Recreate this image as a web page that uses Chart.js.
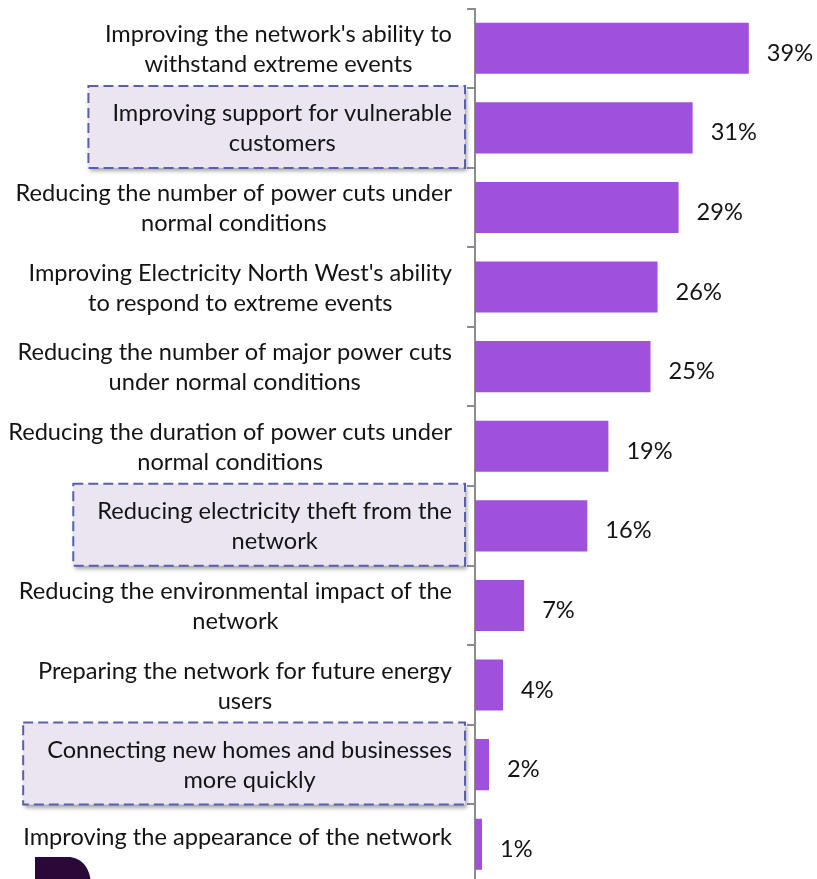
<!DOCTYPE html>
<html>
<head>
<meta charset="utf-8">
<script src="https://cdn.jsdelivr.net/npm/chart.js@4/dist/chart.umd.min.js"></script>
<style>
  html, body { margin: 0; padding: 0; background: #ffffff; overflow: hidden; }
  #wrap { position: relative; width: 817px; height: 884px; }
</style>
</head>
<body>
<div id="wrap"><canvas id="chart" width="817" height="884"></canvas></div>
<script>
// Priorities, top to bottom (each entry holds the wrapped lines of the label)
const categories = [
  ["Improving the network's ability to", "withstand extreme events"],
  ["Improving support for vulnerable", "customers"],
  ["Reducing the number of power cuts under", "normal conditions"],
  ["Improving Electricity North West's ability", "to respond to extreme events"],
  ["Reducing the number of major power cuts", "under normal conditions"],
  ["Reducing the duration of power cuts under", "normal conditions"],
  ["Reducing electricity theft from the", "network"],
  ["Reducing the environmental impact of the", "network"],
  ["Preparing the network for future energy", "users"],
  ["Connecting new homes and businesses", "more quickly"],
  ["Improving the appearance of the network"]
];
// Share of respondents choosing each priority (%)
const shares = [39, 31, 29, 26, 25, 19, 16, 7, 4, 2, 1];
// Priorities framed with a dashed call-out box
const highlighted = [1, 6, 9];

const FONT = 'Lato, "Open Sans", sans-serif';
const FS = 23.6;
const TEXT = '#141414';

// Call-out boxes, category labels, value labels and the corner mark
const annotate = {
  id: 'annotate',
  beforeDatasetsDraw(chart) {
    const ctx = chart.ctx;
    const y = chart.scales.y;
    ctx.save();
    ctx.font = FS + 'px ' + FONT;
    highlighted.forEach(i => {
      const cy = y.getPixelForValue(i) - 1;
      const w = Math.max(...categories[i].map(s => ctx.measureText(s).width));
      const right = 465, left = 452 - w - 24;
      const top = cy - 41, h = 82;
      ctx.save();
      ctx.shadowColor = 'rgba(0,0,0,0.35)';
      ctx.shadowBlur = 4;
      ctx.shadowOffsetX = 2;
      ctx.shadowOffsetY = 3;
      ctx.fillStyle = '#ebe5f2';
      ctx.fillRect(left, top, right - left, h);
      ctx.restore();
      ctx.save();
      ctx.strokeStyle = '#5860ab';
      ctx.lineWidth = 2;
      ctx.setLineDash([10, 5]);
      ctx.strokeRect(left, top, right - left, h);
      ctx.restore();
    });
    ctx.restore();
  },
  afterDraw(chart) {
    const ctx = chart.ctx;
    const y = chart.scales.y;
    const x = chart.scales.x;
    ctx.save();
    ctx.font = FS + 'px ' + FONT;
    ctx.fillStyle = TEXT;
    ctx.textBaseline = 'alphabetic';
    const cap = FS * 0.72;
    const lh = 30;

    // category labels: block right-aligned to the axis, lines centred inside it
    categories.forEach((lines, i) => {
      const cy = y.getPixelForValue(i) - (lines.length === 1 ? 8 : 0);
      const w = Math.max(...lines.map(s => ctx.measureText(s).width));
      const cx = 452 - w / 2;
      ctx.textAlign = 'center';
      lines.forEach((s, k) => {
        const lc = cy + (k - (lines.length - 1) / 2) * lh;
        ctx.fillText(s, cx, lc + cap / 2);
      });
    });

    // value labels to the right of each bar
    ctx.textAlign = 'left';
    shares.forEach((v, i) => {
      const cy = y.getPixelForValue(i);
      ctx.fillText(v + '%', x.getPixelForValue(v) + 18, cy + 4 + cap / 2);
    });

    // dark corner mark at the bottom left
    ctx.fillStyle = '#2a0838';
    ctx.beginPath();
    ctx.moveTo(35, 884);
    ctx.lineTo(35, 857);
    ctx.lineTo(68, 857);
    ctx.bezierCurveTo(80, 857, 90, 866, 91, 884);
    ctx.closePath();
    ctx.fill();
    ctx.restore();
  }
};

new Chart(document.getElementById('chart'), {
  type: 'bar',
  data: {
    labels: categories,
    datasets: [{
      data: shares,
      backgroundColor: '#9f50dc',
      borderWidth: 0,
      barPercentage: 0.642,
      categoryPercentage: 1
    }]
  },
  options: {
    indexAxis: 'y',
    responsive: false,
    devicePixelRatio: 1,
    animation: false,
    layout: { padding: { left: 467, right: 5, top: 8.5, bottom: 0 } },
    plugins: { legend: { display: false }, tooltip: { enabled: false } },
    scales: {
      x: { display: false, min: 0, max: 48 },
      y: {
        ticks: { display: false },
        grid: {
          offset: true,
          drawOnChartArea: false,
          drawTicks: true,
          tickLength: 8,
          color: '#8c8c8c',
          lineWidth: 2
        },
        border: { color: '#8c8c8c', width: 2 }
      }
    }
  },
  plugins: [annotate]
});
</script>
</body>
</html>
